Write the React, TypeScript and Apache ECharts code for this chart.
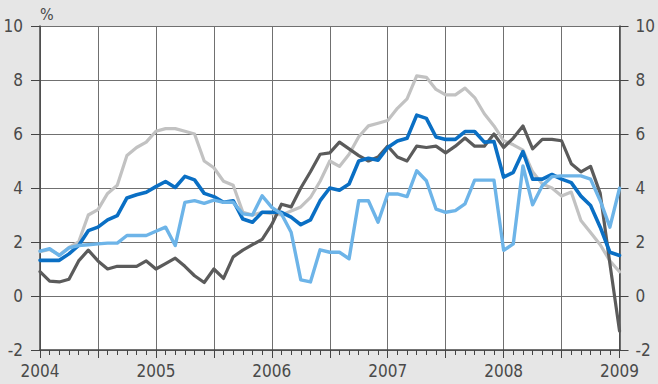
import React, { useEffect, useRef } from "react";
import * as echarts from "echarts";

// Monthly observations, Jan 2004 .. Jan 2009 (61 points)
const startYear = 2004;
const yearLabels = ["2004", "2005", "2006", "2007", "2008", "2009"];
const yMin = -2;
const yMax = 10;
const yStep = 2;

const darkGray = [
  0.9, 0.55, 0.52, 0.62, 1.3, 1.7, 1.3, 1.0, 1.1, 1.1, 1.1, 1.3,
  1.0, 1.2, 1.4, 1.1, 0.75, 0.5, 1.0, 0.65, 1.45, 1.7, 1.9, 2.1,
  2.65, 3.4, 3.3, 4.0, 4.6, 5.25, 5.3, 5.7, 5.45, 5.2, 5.0, 5.15,
  5.55, 5.15, 5.0, 5.55, 5.5, 5.55, 5.3, 5.55, 5.85, 5.55, 5.55, 6.0,
  5.5, 5.85, 6.3, 5.45, 5.8, 5.8, 5.75, 4.9, 4.6, 4.8, 3.8, 1.2,
  -1.3,
];

const lightGray = [
  1.64, 1.72, 1.52, 1.8, 2.0, 3.0, 3.2, 3.8, 4.1, 5.2, 5.5, 5.7,
  6.1, 6.2, 6.2, 6.1, 6.0, 5.0, 4.75, 4.25, 4.1, 3.1, 3.0, 3.1,
  3.05, 3.0, 3.15, 3.3, 3.65, 4.25, 5.0, 4.8, 5.25, 5.9, 6.3, 6.4,
  6.5, 6.95, 7.3, 8.15, 8.1, 7.65, 7.45, 7.45, 7.7, 7.35, 6.75, 6.3,
  5.75, 5.6, 5.4, 4.6, 4.15, 4.0, 3.7, 3.85, 2.8, 2.35, 1.9, 1.3,
  0.9,
];

const blue = [
  1.32, 1.32, 1.32, 1.56, 1.87, 2.42, 2.55, 2.82, 2.98, 3.63, 3.75, 3.84,
  4.05, 4.24, 4.02, 4.43, 4.3, 3.8, 3.68, 3.47, 3.53, 2.85, 2.73, 3.1,
  3.1, 3.1, 2.92, 2.64, 2.82, 3.53, 4.0, 3.92, 4.15, 5.0, 5.1, 5.03,
  5.5, 5.74, 5.84, 6.7, 6.58, 5.89, 5.8, 5.8, 6.09, 6.09, 5.7, 5.72,
  4.4, 4.58, 5.35, 4.33, 4.33, 4.5, 4.33, 4.2, 3.7, 3.35, 2.55, 1.62,
  1.5,
];

const lightBlue = [
  1.66, 1.75, 1.5, 1.78, 1.87, 1.9, 1.93, 1.96, 1.96, 2.24, 2.24, 2.24,
  2.4, 2.55, 1.87, 3.47, 3.53, 3.43, 3.55, 3.47, 3.47, 3.04, 3.0, 3.71,
  3.28, 3.04, 2.36, 0.6, 0.52, 1.71, 1.62, 1.62, 1.38, 3.53, 3.53, 2.73,
  3.78, 3.78, 3.68, 4.64, 4.27, 3.22, 3.1, 3.16, 3.41, 4.29, 4.29, 4.29,
  1.69, 1.93, 4.82, 3.38, 4.08, 4.42, 4.45, 4.45, 4.45, 4.33, 3.53, 2.55,
  3.99,
];

const FONT = "'Liberation Sans Narrow', 'DejaVu Sans Condensed', 'Liberation Sans', Arial, sans-serif";
const AXIS_COLOR = "#444444";
const TEXT_COLOR = "#4a4a4a";

export default function App() {
  const ref = useRef<HTMLDivElement>(null);

  useEffect(() => {
    if (!ref.current) return;
    const chart = echarts.init(ref.current, null, { renderer: "svg" });
    const toPts = (arr: number[]) => arr.map((v, i) => [i, v]);
    const nMonths = darkGray.length - 1;

    const yAxisBase = (position: "left" | "right", showSplit: boolean, margin: number) => ({
      type: "value",
      position,
      min: yMin,
      max: yMax,
      interval: yStep,
      axisLine: { show: true, lineStyle: { color: AXIS_COLOR, width: 1.5 } },
      axisTick: { show: true, length: 9, inside: false, lineStyle: { color: AXIS_COLOR, width: 1 } },
      splitLine: { show: showSplit, lineStyle: { color: "#707070", width: 1 } },
      axisLabel: {
        show: true,
        fontSize: 17,
        fontFamily: FONT,
        color: TEXT_COLOR,
        margin,
      },
    });

    const line = (name: string, data: number[], color: string, width: number) => ({
      name,
      type: "line",
      data: toPts(data),
      showSymbol: false,
      symbol: "none",
      lineStyle: { color, width, join: "round", cap: "round" },
      itemStyle: { color },
    });

    chart.setOption({
      animation: false,
      backgroundColor: "#e6e6e6",
      grid: {
        left: 40,
        right: 31,
        top: 26,
        bottom: 34,
        show: true,
        backgroundColor: "#ffffff",
        borderWidth: 0,
      },
      xAxis: {
        type: "value",
        min: 0,
        max: nMonths,
        interval: 6,
        axisLine: { show: true, onZero: false, lineStyle: { color: AXIS_COLOR, width: 1.5 } },
        axisTick: { show: true, length: 8, lineStyle: { color: AXIS_COLOR, width: 1 } },
        minorTick: { show: true, splitNumber: 6, length: 5, lineStyle: { color: AXIS_COLOR, width: 1 } },
        splitLine: { show: true, lineStyle: { color: "#707070", width: 1 } },
        axisLabel: {
          fontSize: 17,
          fontFamily: FONT,
          color: TEXT_COLOR,
          margin: 12,
          formatter: (v: number) => (v % 12 === 0 ? yearLabels[v / 12] ?? String(startYear + v / 12) : ""),
        },
      },
      yAxis: [yAxisBase("left", true, 17), yAxisBase("right", false, 16)],
      graphic: [
        {
          type: "text",
          left: 40,
          top: 6,
          style: { text: "%", fontSize: 16, fontFamily: FONT, fill: TEXT_COLOR },
        },
      ],
      series: [
        line("Light gray", lightGray, "#c2c2c2", 3.2),
        line("Dark gray", darkGray, "#5b5b5b", 3.2),
        line("Blue", blue, "#0a6fc4", 3.6),
        line("Light blue", lightBlue, "#6db4e8", 3.4),
      ],
    });

    return () => chart.dispose();
  }, []);

  return (
    <div
      ref={ref}
      style={{ position: "fixed", left: 0, top: 0, width: 658, height: 384 }}
    />
  );
}
